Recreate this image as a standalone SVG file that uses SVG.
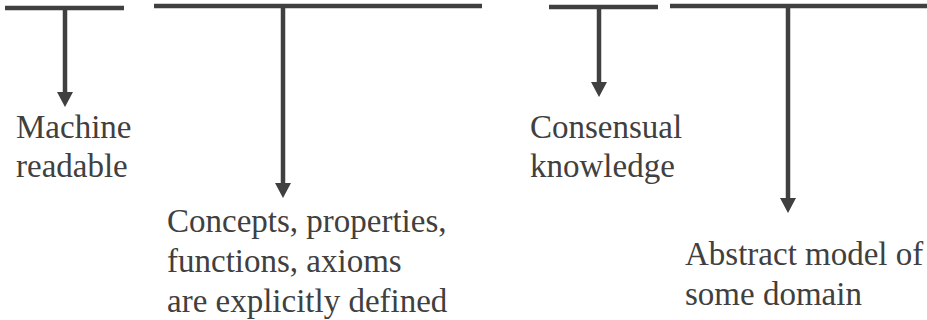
<svg xmlns="http://www.w3.org/2000/svg" width="927" height="320" viewBox="0 0 927 320">
<style>
.bar{stroke:#404040;stroke-width:4.5;fill:none}
.shaft{stroke:#404040;stroke-width:4.5;fill:none}
.head{fill:#404040}
.t{font-family:'Liberation Serif','Times New Roman',serif;font-size:33px;fill:#404040}
</style>
<rect width="927" height="320" fill="#ffffff"/>
<g id="connectors">
<line class="bar" x1="5" y1="8" x2="124" y2="8"/>
<line class="bar" x1="154" y1="6" x2="482" y2="6"/>
<line class="bar" x1="549" y1="7" x2="658" y2="7"/>
<line class="bar" x1="670" y1="6" x2="927" y2="6"/>
<line class="shaft" x1="65" y1="8" x2="65" y2="94"/>
<polygon class="head" points="57,92 73,92 65,107"/>
<line class="shaft" x1="283" y1="6" x2="283" y2="185"/>
<polygon class="head" points="275,183 291,183 283,198"/>
<line class="shaft" x1="599" y1="7" x2="599" y2="84"/>
<polygon class="head" points="591,82 607,82 599,97"/>
<line class="shaft" x1="788" y1="6" x2="788" y2="200"/>
<polygon class="head" points="780,198 796,198 788,213"/>
</g>
<g id="machine-readable">
<text class="t" x="16" y="138">Machine</text>
<text class="t" x="16" y="177">readable</text>
</g>
<g id="explicit">
<text class="t" x="167" y="232">Concepts, properties,</text>
<text class="t" x="167" y="272">functions, axioms</text>
<text class="t" x="167" y="312">are explicitly defined</text>
</g>
<g id="consensual">
<text class="t" x="530" y="138">Consensual</text>
<text class="t" x="530" y="177">knowledge</text>
</g>
<g id="abstract">
<text class="t" x="685" y="265">Abstract model of</text>
<text class="t" x="685" y="305">some domain</text>
</g>
</svg>
